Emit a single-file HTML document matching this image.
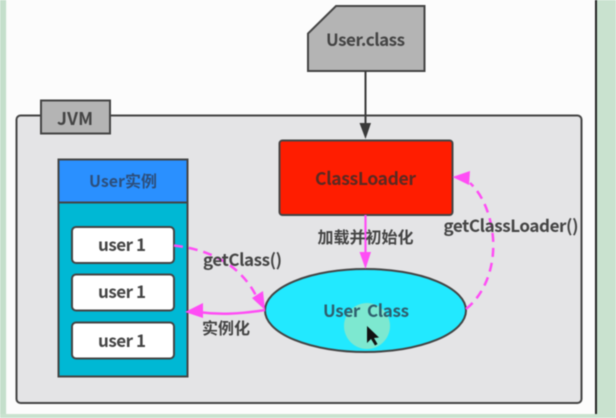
<!DOCTYPE html>
<html><head><meta charset="utf-8"><style>
html,body{margin:0;padding:0;background:#fff}
svg{display:block;filter:blur(.45px)}
text{font-family:"Noto Sans CJK SC","Liberation Sans",sans-serif;font-weight:bold;fill:#444;text-anchor:middle}
</style></head><body>
<svg width="616" height="418" viewBox="0 0 616 418" xmlns="http://www.w3.org/2000/svg">
<rect width="616" height="418" fill="#fcfcfc"/>
<rect x="0" y="0" width="6" height="418" fill="#c4dfcb"/>
<rect x="6" y="0" width="1" height="418" fill="#f4f8f5"/>
<rect x="597" y="0" width="19" height="418" fill="#c9e2cf"/>
<rect x="595" y="0" width="2" height="414" fill="#222"/>
<rect x="0" y="414" width="616" height="4" fill="#c9e2cf"/>
<rect x="16.500" y="115.500" width="565" height="287.500" rx="4" fill="#e4e4e6" stroke="#444" stroke-width="2"/>
<rect x="41" y="100.500" width="69" height="33" fill="#b4b4b4" stroke="#444" stroke-width="2"/>
<text x="75" y="125" font-size="17.500" textLength="36">JVM</text>
<polygon points="336,6 424.500,6 424.500,71 308,71 308,33.500" fill="#b4b4b4" stroke="#444" stroke-width="2"/>
<text x="365.500" y="46" font-size="17" textLength="79">User.class</text>
<line x1="365.500" y1="71" x2="365.500" y2="125" stroke="#3a3a3a" stroke-width="2"/>
<polygon points="359.500,123 371,123 365.500,139" fill="#3a3a3a"/>
<rect x="279.500" y="140.500" width="173" height="74.500" rx="3" fill="#ff1d00" stroke="#444" stroke-width="2"/>
<text x="365.500" y="185" font-size="17.500" textLength="101" style="fill:#5a2a22">ClassLoader</text>
<rect x="58.500" y="159.500" width="129" height="217" fill="#00b8d4" stroke="#444" stroke-width="2"/>
<rect x="58.500" y="159.500" width="129" height="43" fill="#2a90ff" stroke="#444" stroke-width="2"/>
<text x="123" y="187" font-size="16" textLength="68" style="fill:#2d4f7c">User实例</text>
<rect x="72" y="227" width="102" height="36" rx="4" fill="#fff" stroke="#444" stroke-width="2"/>
<rect x="72" y="274.500" width="102" height="36" rx="4" fill="#fff" stroke="#444" stroke-width="2"/>
<rect x="72" y="322.500" width="102" height="36" rx="4" fill="#fff" stroke="#444" stroke-width="2"/>
<text x="122" y="251" font-size="17" textLength="48">user 1</text>
<text x="122" y="298" font-size="17" textLength="48">user 1</text>
<text x="122" y="347" font-size="17" textLength="48">user 1</text>
<ellipse cx="365.500" cy="310.500" rx="100.500" ry="41.500" fill="#22e9ff" stroke="#444" stroke-width="2"/>
<circle cx="367" cy="326" r="23" fill="#7de8d0"/>
<text x="366" y="317" font-size="17" xml:space="preserve" textLength="86" style="fill:#2f5f6e">User  Class</text>
<polygon points="367,326 367,343 371,339 375,345.500 377.500,344 374,338 379,337.500" fill="#111"/>
<path d="M174,245.500 C205,249 242,262 259,302" fill="none" stroke="#ff4df5" stroke-width="2.500" stroke-dasharray="9 6"/>
<polygon points="265,310 252,298 263,291" fill="#ff4df5"/>
<path d="M265,310 C240,314 220,315 198,312" fill="none" stroke="#ff4df5" stroke-width="2.500"/>
<polygon points="185,312 203,303 203,318" fill="#ff4df5"/>
<line x1="365.500" y1="215" x2="365.500" y2="255" stroke="#ff4df5" stroke-width="2.200"/>
<polygon points="359.500,252 371,252 365.500,269" fill="#ff4df5"/>
<path d="M466,309 C486,293 495,265 493,238 C491,214 482,194 470,183" fill="none" stroke="#ff4df5" stroke-width="2.500" stroke-dasharray="9 6"/>
<polygon points="452.500,177 470,171 469,185" fill="#ff4df5"/>
<text x="242.500" y="266" font-size="17" textLength="79">getClass()</text>
<text x="226" y="334" font-size="16">实例化</text>
<text x="365.500" y="243" font-size="16">加载并初始化</text>
<text x="511" y="232" font-size="17" textLength="135">getClassLoader()</text>
</svg>
</body></html>
